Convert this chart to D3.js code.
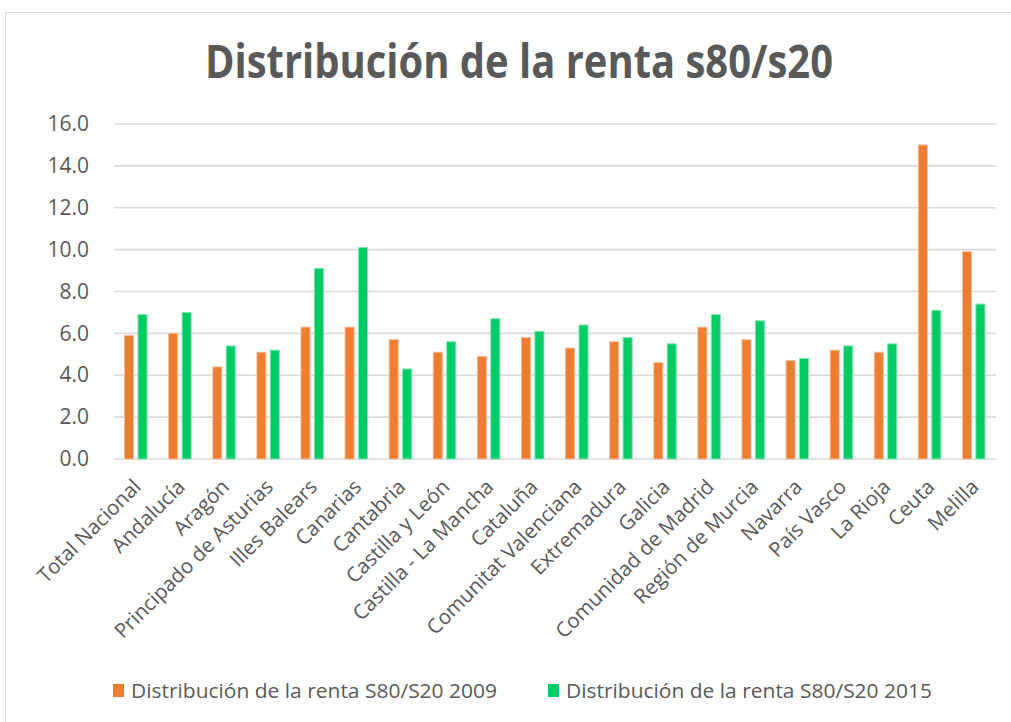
<!DOCTYPE html>
<html>
<head>
<meta charset="utf-8">
<script src="https://cdn.jsdelivr.net/npm/d3@7"></script>
<style>
  body { margin: 0; background: #fff; }
  svg { display: block; }
  text { font-family: "Open Sans", sans-serif; fill: #595959; }
</style>
</head>
<body>
<script>
// data
var regions = ["Total Nacional", "Andalucía", "Aragón", "Principado de Asturias", "Illes Balears",
  "Canarias", "Cantabria", "Castilla y León", "Castilla - La Mancha", "Cataluña",
  "Comunitat Valenciana", "Extremadura", "Galicia", "Comunidad de Madrid", "Región de Murcia",
  "Navarra", "País Vasco", "La Rioja", "Ceuta", "Melilla"];
var values2009 = [5.9, 6.0, 4.4, 5.1, 6.3, 6.3, 5.7, 5.1, 4.9, 5.8, 5.3, 5.6, 4.6, 6.3, 5.7, 4.7, 5.2, 5.1, 15.0, 9.9];
var values2015 = [6.9, 7.0, 5.4, 5.2, 9.1, 10.1, 4.3, 5.6, 6.7, 6.1, 6.4, 5.8, 5.5, 6.9, 6.6, 4.8, 5.4, 5.5, 7.1, 7.4];
var seriesNames = ["Distribución de la renta S80/S20 2009", "Distribución de la renta S80/S20 2015"];
var yTicks = [0, 2, 4, 6, 8, 10, 12, 14, 16];

var colors = ["#ED7D31", "#00CC66"];
var strokes = ["#f6bd98", "#7fe5b2"];

var W = 1011, H = 722;
var plot = {left: 114, right: 996, top: 124, bottom: 459};

var svg = d3.select("body").append("svg")
    .attr("width", W)
    .attr("height", H);

// chart border
svg.append("rect")
    .attr("x", 5.5).attr("y", 12.5)
    .attr("width", W + 20).attr("height", H + 20)
    .attr("fill", "#fff")
    .attr("stroke", "#d9d9d9");

var rows = regions.map(function(r, i) {
    return {region: r, vals: [values2009[i], values2015[i]]};
});

var x0 = d3.scaleBand()
    .domain(regions)
    .range([plot.left, plot.right]);

var step = x0.step();
var x1 = d3.scaleBand()
    .domain([0, 1])
    .range([step / 2 - 12, step / 2 + 11.5])
    .paddingInner(0.25);

var y = d3.scaleLinear()
    .domain([0, 16])
    .range([plot.bottom, plot.top]);

// gridlines
svg.append("g")
    .selectAll("line")
    .data(yTicks)
    .enter().append("line")
        .attr("x1", plot.left).attr("x2", plot.right)
        .attr("y1", function(d) { return y(d); })
        .attr("y2", function(d) { return y(d); })
        .attr("stroke", "#d9d9d9")
        .attr("stroke-width", 1.6);

// y axis labels
var yAxis = svg.append("g")
    .attr("transform", "translate(" + (plot.left - 22) + ",0)")
    .call(d3.axisLeft(y).tickValues(yTicks).tickFormat(d3.format(".1f")).tickSize(0));
yAxis.select(".domain").remove();
yAxis.selectAll("text")
    .attr("font-size", 21)
    .attr("font-family", "Open Sans")
    .attr("fill", "#595959");

// bars
var groups = svg.append("g")
    .selectAll("g")
    .data(rows)
    .enter().append("g")
        .attr("transform", function(d) { return "translate(" + x0(d.region) + ",0)"; });

groups.selectAll("rect")
    .data(function(d) { return d.vals; })
    .enter().append("rect")
        .attr("x", function(d, i) { return x1(i) + 0.5; })
        .attr("width", x1.bandwidth() - 1)
        .attr("y", function(d) { return y(d); })
        .attr("height", function(d) { return y(0) - y(d); })
        .attr("fill", function(d, i) { return colors[i]; })
        .attr("stroke", function(d, i) { return strokes[i]; })
        .attr("stroke-width", 1);

// x labels
svg.append("g")
    .selectAll("text")
    .data(regions)
    .enter().append("text")
        .attr("transform", function(d) {
            return "translate(" + (x0(d) + step / 2 + 1) + "," + 483 + ") rotate(-45)";
        })
        .attr("text-anchor", "end")
        .attr("dy", "0.35em")
        .attr("font-size", 20.5)
        .text(function(d) { return d; });

// title
svg.append("text")
    .attr("x", 519)
    .attr("y", 78)
    .attr("text-anchor", "middle")
    .attr("font-size", 47)
    .attr("font-weight", "bold")
    .attr("textLength", 628)
    .attr("lengthAdjust", "spacingAndGlyphs")
    .text("Distribución de la renta s80/s20");

// legend
var legendX = [113, 548];
var legend = svg.append("g")
    .selectAll("g")
    .data(seriesNames)
    .enter().append("g")
        .attr("transform", function(d, i) { return "translate(" + legendX[i] + ",684)"; });

legend.append("rect")
    .attr("width", 11).attr("height", 13)
    .attr("fill", function(d, i) { return colors[i]; });

legend.append("text")
    .attr("x", 18)
    .attr("y", 14)
    .attr("font-size", 20.5)
    .attr("textLength", 366)
    .attr("lengthAdjust", "spacingAndGlyphs")
    .text(function(d) { return d; });
</script>
</body>
</html>
